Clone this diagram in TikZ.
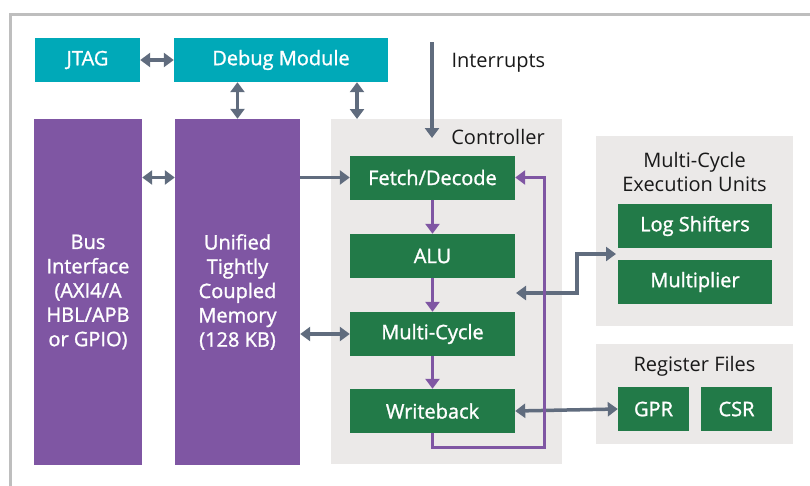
\documentclass[tikz,border=0pt]{standalone}
\usepackage{fontspec}
\setmainfont{Open Sans}
\newfontfamily\boxfont[FakeBold=1.3]{Open Sans}
\usetikzlibrary{arrows.meta}
\definecolor{sfteal}{RGB}{0,169,184}
\definecolor{sfpurple}{RGB}{127,86,163}
\definecolor{sfgreen}{RGB}{34,122,72}
\definecolor{sfgray}{RGB}{235,233,232}
\definecolor{sfline}{RGB}{96,108,126}
\definecolor{sfframe}{RGB}{190,190,190}
\tikzset{
  blk/.style={inner sep=0pt, align=center, font=\boxfont\fontsize{20}{24.3}\selectfont, text=white},
  dbg/.style={blk, fill=sfteal, minimum height=44pt},
  mem/.style={blk, fill=sfpurple, minimum height=346pt},
  unit/.style={blk, fill=sfgreen, minimum height=44pt},
  stage/.style={unit, minimum width=165pt},
  grp/.style={fill=sfgray, inner sep=0pt},
  lbl/.style={font=\fontsize{20}{24}\selectfont, text=black!90, align=center},
  bus/.style={draw=sfline, line width=3.5pt, {Triangle[length=10pt, width=14pt]}-{Triangle[length=10pt, width=14pt]}},
  sig/.style={draw=sfline, line width=3.5pt, -{Triangle[length=10pt, width=14pt]}},
  flow/.style={draw=sfpurple, line width=3pt, -{Triangle[length=10pt, width=14pt]}},
}

\begin{document}
\begin{tikzpicture}[x=1pt, y=-1pt]
  \useasboundingbox (0,0) rectangle (810,485);
  \draw[sfframe, line width=3pt] (10.5,490) -- (10.5,14.5) -- (815,14.5);

  % debug
  \node[dbg, minimum width=105pt] (jtag) at (87.5,60) {JTAG};
  \node[dbg, minimum width=214pt] (debug) at (281,60) {Debug Module};

  % bus and memory
  \node[mem, minimum width=108pt] (bus) at (88,292) {Bus\\Interface\\(AXI4/A\\HBL/APB\\or GPIO)};
  \node[mem, minimum width=125pt] (tcm) at (237.5,292) {Unified\\Tightly\\Coupled\\Memory\\(128 KB)};

  % controller
  \node[grp, minimum width=231pt, minimum height=345pt] (ctrl) at (446.5,291.5) {};
  \node[lbl] (ctrltitle) at (498,137) {Controller};
  \node[stage] (fetch) at (432.5,177.5) {Fetch/Decode};
  \node[stage] (alu) at (432.5,256) {ALU};
  \node[stage] (mc) at (432.5,334) {Multi-Cycle};
  \node[stage] (wb) at (432.5,411) {Writeback};

  % execution units and registers
  \node[grp, minimum width=197pt, minimum height=190pt] (exec) at (694.5,231) {};
  \node[lbl] (exectitle) at (694.5,172) {Multi-Cycle\\Execution Units};
  \node[unit, minimum width=154pt] (shift) at (695,226) {Log Shifters};
  \node[unit, minimum width=154pt] (mult) at (695,282) {Multiplier};
  \node[grp, minimum width=197pt, minimum height=100pt] (regs) at (694.5,394) {};
  \node[lbl] (regtitle) at (694.5,366) {Register Files};
  \node[unit, minimum width=71pt] (gpr) at (653.5,409) {GPR};
  \node[unit, minimum width=71pt] (csr) at (736.5,409) {CSR};

  % interrupts
  \coordinate (irqsrc) at (432,42);
  \coordinate (irqin) at (432,138);
  \node[lbl, anchor=west] (irqlbl) at (448,63) {Interrupts};
  \draw[sig] (irqsrc) -- (irqin);

  % gray connections
  \coordinate (dbgtap) at (357,119);
  \coordinate (xret) at (516,293);
  \coordinate (xout) at (616,254);
  \draw[bus] (jtag) -- (debug);
  \draw[bus] (debug.south -| tcm.north) -- (tcm.north);
  \draw[bus] (debug.south -| dbgtap) -- (dbgtap);
  \draw[bus] (bus.east |- fetch) -- (tcm.west |- fetch);
  \draw[sig] (tcm.east |- fetch) -- (fetch.west);
  \draw[bus] (tcm.east |- mc) -- (mc.west);
  \draw[bus] (xret) -- ++(61,0) |- (xout);
  \draw[bus] (wb.east) -- (gpr.west);

  % pipeline
  \coordinate (loop) at (544,447);
  \draw[flow] (fetch) -- (alu);
  \draw[flow] (alu) -- (mc);
  \draw[flow] (mc) -- (wb);
  \draw[flow] (wb.south) |- (loop) |- (fetch.east);
\end{tikzpicture}
\end{document}
